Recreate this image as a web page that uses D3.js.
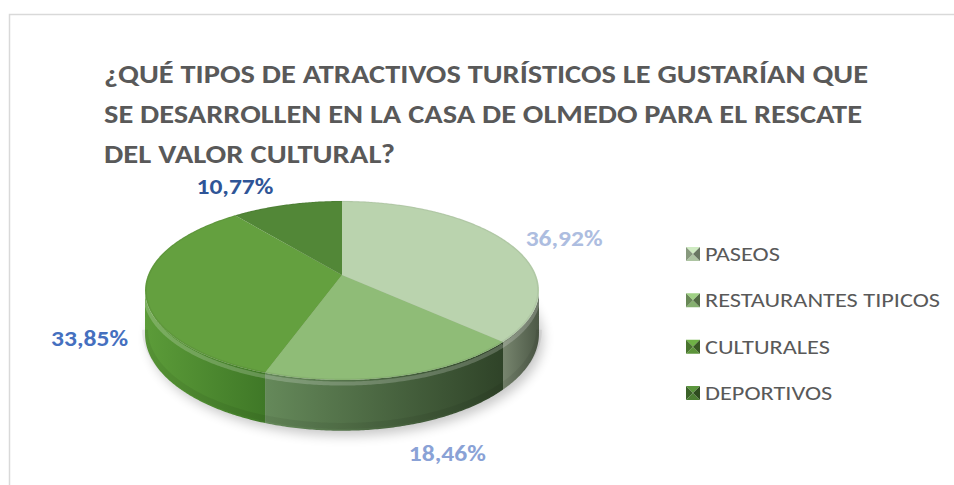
<!DOCTYPE html>
<html>
<head>
<meta charset="utf-8">
<script src="https://cdn.jsdelivr.net/npm/d3@7"></script>
<style>
  body { margin: 0; background: #fff; }
  svg { display: block; }
</style>
</head>
<body>
<svg width="954" height="485"></svg>
<script>
// data
const categories = ['PASEOS', 'RESTAURANTES TIPICOS', 'CULTURALES', 'DEPORTIVOS'];
const values = [36.92, 18.46, 33.85, 10.77];
const valueLabels = ['36,92%', '18,46%', '33,85%', '10,77%'];
const titleLines = [
  '¿QUÉ TIPOS DE ATRACTIVOS TURÍSTICOS LE GUSTARÍAN QUE',
  'SE DESARROLLEN EN LA CASA DE OLMEDO PARA EL RESCATE',
  'DEL VALOR CULTURAL?'
];

// styles
const topColors = ['#bad3ae', '#8fbc77', '#64a03f', '#528737'];
const sideColors = [['#77856e', '#4c5846'], ['#65895a', '#2f4328'], ['#5c9c39', '#3f7827'], ['#4a7d30', '#365f22']];
const labelColors = ['#adbde0', '#8aa2d6', '#4570bf', '#2f5597'];
const labelNudge = [[10, 4], [28, -16], [6, 0], [-38, -1]];

const svg = d3.select('svg');
const font = "Calibri, Carlito, 'Open Sans', sans-serif";

// chart frame
svg.append('path')
  .attr('d', 'M9.5,485 L9.5,14.5 L954,14.5')
  .attr('fill', 'none')
  .attr('stroke', '#d9d9d9')
  .attr('stroke-width', 1.5);

// title
const titleWidths = [764, 758, 291];
const title = svg.append('g');
titleLines.forEach((line, i) => {
  title.append('text')
    .attr('x', 104)
    .attr('y', 83 + i * 40)
    .attr('font-family', font)
    .attr('font-weight', 'bold')
    .attr('font-size', 26)
    .attr('fill', '#595959')
    .attr('textLength', titleWidths[i])
    .attr('lengthAdjust', 'spacingAndGlyphs')
    .text(line);
});

// 3D pie projection (tilted disc seen in perspective)
const cx = 342, cy = 275, A = 86.8, B = 194, p = -0.173, depth = 42;
function proj(a, r = 1, down = 0) {
  const u = r * Math.sin(a), v = -r * Math.cos(a);
  const den = 1 + p * v;
  return [cx + B * u / den, cy + A * v / den + down / den];
}
function arcPoints(a0, a1, r, down) {
  const n = Math.max(2, Math.ceil(Math.abs(a1 - a0) / 0.01));
  return d3.range(n + 1).map(k => proj(a0 + (a1 - a0) * k / n, r, down));
}

const arcs = d3.pie().sort(null).startAngle(0).endAngle(2 * Math.PI)(values);
const defs = svg.append('defs');

// soft shadow
defs.append('filter').attr('id', 'blur')
  .attr('x', '-20%').attr('y', '-50%').attr('width', '140%').attr('height', '200%')
  .append('feGaussianBlur').attr('stdDeviation', 6);
svg.append('path')
  .attr('d', d3.line()(arcPoints(0, 2 * Math.PI, 1, depth)) + 'Z')
  .attr('transform', 'translate(4,5)')
  .attr('fill', '#000')
  .attr('opacity', 0.22)
  .attr('filter', 'url(#blur)');

// visible side range
const aMin = Math.acos(p), aMax = 2 * Math.PI - Math.acos(p);
const sides = svg.append('g');
arcs.forEach((d, i) => {
  const s0 = Math.max(d.startAngle, aMin), s1 = Math.min(d.endAngle, aMax);
  if (s0 >= s1) return;
  const topPts = arcPoints(s0, s1, 1, 0);
  const botPts = arcPoints(s1, s0, 1, depth);
  const xs = topPts.map(q => q[0]);
  const g = defs.append('linearGradient').attr('id', 'side' + i)
    .attr('gradientUnits', 'userSpaceOnUse')
    .attr('x1', d3.min(xs)).attr('x2', d3.max(xs)).attr('y1', 0).attr('y2', 0);
  g.append('stop').attr('offset', 0).attr('stop-color', sideColors[i][0]);
  g.append('stop').attr('offset', 1).attr('stop-color', sideColors[i][1]);
  sides.append('path')
    .attr('d', d3.line()(topPts.concat(botPts)) + 'Z')
    .attr('fill', `url(#side${i})`);
  // rounded bevel highlight on the upper edge
  sides.append('path')
    .attr('d', d3.line()(arcPoints(s0, s1, 1, 3)))
    .attr('fill', 'none')
    .attr('stroke', '#fff')
    .attr('stroke-opacity', 0.2)
    .attr('stroke-width', 4);
  sides.append('path')
    .attr('d', d3.line()(arcPoints(s0, s1, 1, depth - 4)))
    .attr('fill', 'none')
    .attr('stroke', '#000')
    .attr('stroke-opacity', 0.06)
    .attr('stroke-width', 6);
});

// top faces
const tops = svg.append('g');
arcs.forEach((d, i) => {
  const pts = [[cx, cy]].concat(arcPoints(d.startAngle, d.endAngle, 1, 0));
  tops.append('path')
    .attr('d', d3.line()(pts) + 'Z')
    .attr('fill', topColors[i]);
});
tops.append('path')
  .attr('d', d3.line()(arcPoints(0, 2 * Math.PI, 0.995, 0)) + 'Z')
  .attr('fill', 'none')
  .attr('stroke', '#000')
  .attr('stroke-opacity', 0.05)
  .attr('stroke-width', 1.5);

// data labels (outside end)
arcs.forEach((d, i) => {
  const mid = (d.startAngle + d.endAngle) / 2;
  const v = -Math.cos(mid);
  const pt = proj(mid, 1.3, v > 0 ? depth : 0);
  svg.append('text')
    .attr('x', pt[0] + labelNudge[i][0])
    .attr('y', pt[1] + labelNudge[i][1])
    .attr('dy', '0.35em')
    .attr('text-anchor', 'middle')
    .attr('font-family', font)
    .attr('font-weight', 'bold')
    .attr('font-size', 23)
    .attr('fill', labelColors[i])
    .attr('textLength', 77)
    .attr('lengthAdjust', 'spacingAndGlyphs')
    .text(valueLabels[i]);
});

// legend
const ly = d3.scalePoint().domain(categories).range([254, 393]);
const legend = svg.append('g');
const legendTexts = [];
categories.forEach((c, i) => {
  const y = ly(c), x = 686, s = 14;
  const base = d3.color(topColors[i]);
  const tri = [
    [[x, y - s / 2], [x + s, y - s / 2], [x + s / 2, y], base.brighter(0.3)],
    [[x, y + s / 2], [x + s, y + s / 2], [x + s / 2, y], base.darker(0.2)],
    [[x, y - s / 2], [x, y + s / 2], [x + s / 2, y], base.darker(0.9)],
    [[x + s, y - s / 2], [x + s, y + s / 2], [x + s / 2, y], base.darker(1.6)]
  ];
  tri.forEach(t => {
    legend.append('path')
      .attr('d', d3.line()(t.slice(0, 3)) + 'Z')
      .attr('fill', t[3]);
  });
  legendTexts.push(legend.append('text')
    .attr('x', 705)
    .attr('y', y)
    .attr('dy', '0.35em')
    .attr('font-family', font)
    .attr('font-size', 20)
    .attr('fill', '#595959')
    .text(c));
});
// stretch legend text so the longest entry matches the picture
const longest = d3.max(legendTexts, t => t.node().getComputedTextLength());
const k = 235 / longest;
legendTexts.forEach(t => {
  t.attr('textLength', t.node().getComputedTextLength() * k)
    .attr('lengthAdjust', 'spacingAndGlyphs');
});
</script>
</body>
</html>
